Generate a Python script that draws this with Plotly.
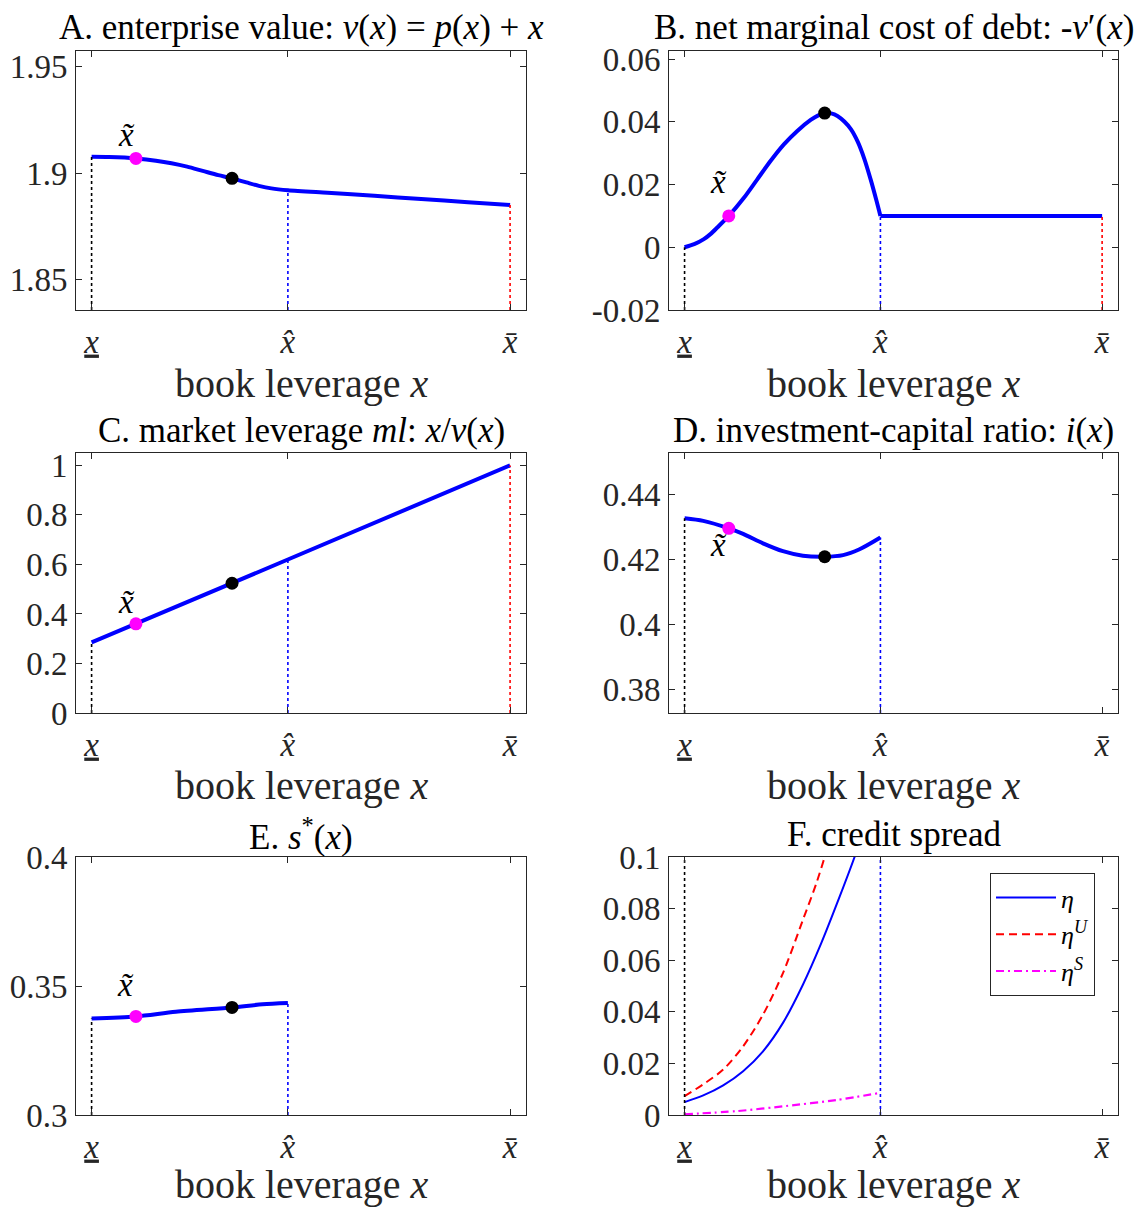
import plotly.graph_objects as go

W, H = 1143, 1209
FONT = "Liberation Serif"
INK = "#262626"
BLUE, RED, MAGENTA, BLACK = "#0000FF", "#FF0000", "#FF00FF", "#000000"

# ---- key points on the book-leverage axis ----
X_LOW, X_HAT, X_BAR = 0.544, 1.173, 1.885
X_TILDE, X_STAR = 0.686, 0.994
x_tick_vals = [X_LOW, X_HAT, X_BAR]
x_tick_text = ["<u><i>x</i></u>", "<i>x\u0302</i>", "<i>x\u0304</i>"]
x_range = [0.494, 1.936]

# ---- A. enterprise value ----
A_x = [0.544, 0.60, 0.65, 0.686, 0.75, 0.80, 0.85, 0.90, 0.95, 0.994, 1.04, 1.08, 1.12, 1.173,
       1.30, 1.45, 1.60, 1.75, 1.885]
A_v = [1.9077, 1.9076, 1.9073, 1.9069, 1.9058, 1.9046, 1.9030, 1.9010, 1.8990, 1.8975, 1.8956,
       1.8940, 1.8928, 1.8919, 1.8907, 1.8893, 1.8878, 1.8863, 1.8850]
A_dots = [1.9069, 1.8975]
A_yticks = [1.85, 1.9, 1.95]
A_ytext = ["1.85", "1.9", "1.95"]
A_yrange = [1.8356, 1.9574]

# ---- B. net marginal cost of debt ----
B_hump_x = [0.544, 0.575, 0.606, 0.627, 0.649, 0.686, 0.734, 0.777, 0.820, 0.863, 0.906, 0.949,
            0.972, 0.994, 1.015, 1.035, 1.057, 1.078, 1.100, 1.121, 1.142, 1.160, 1.173]
B_hump_y = [0.0, 0.0010, 0.0026, 0.0042, 0.0063, 0.0100, 0.0157, 0.0216, 0.0275, 0.0328, 0.0371,
            0.0406, 0.0420, 0.0428, 0.0427, 0.0419, 0.0401, 0.0377, 0.0337, 0.0283, 0.0215,
            0.0150, 0.0100]
B_flat_x = [1.173, 1.885]
B_flat_y = [0.0100, 0.0100]
B_dots = [0.0100, 0.0428]
B_yticks = [-0.02, 0, 0.02, 0.04, 0.06]
B_ytext = ["-0.02", "0", "0.02", "0.04", "0.06"]
B_yrange = [-0.02, 0.0626]

# ---- C. market leverage ----
C_x = [0.544, 0.686, 0.994, 1.173, 1.885]
C_ml = [0.285, 0.360, 0.524, 0.620, 1.000]
C_dots = [0.360, 0.524]
C_yticks = [0, 0.2, 0.4, 0.6, 0.8, 1]
C_ytext = ["0", "0.2", "0.4", "0.6", "0.8", "1"]
C_yrange = [0, 1.05]

# ---- D. investment-capital ratio ----
D_x = [0.544, 0.604, 0.686, 0.732, 0.796, 0.860, 0.924, 0.994, 1.053, 1.106, 1.173]
D_i = [0.4326, 0.4318, 0.4295, 0.4278, 0.4249, 0.4225, 0.4211, 0.4208, 0.4213, 0.4231, 0.4267]
D_dots = [0.4295, 0.4208]
D_yticks = [0.38, 0.4, 0.42, 0.44]
D_ytext = ["0.38", "0.4", "0.42", "0.44"]
D_yrange = [0.3729, 0.4526]

# ---- E. s*(x) ----
E_x = [0.544, 0.686, 0.814, 0.994, 1.092, 1.173]
E_s = [0.3374, 0.3382, 0.3400, 0.3417, 0.3429, 0.3434]
E_dots = [0.3382, 0.3417]
E_yticks = [0.3, 0.35, 0.4]
E_ytext = ["0.3", "0.35", "0.4"]
E_yrange = [0.3, 0.4]

# ---- F. credit spread ----
F_eta_x = [0.544, 0.604, 0.668, 0.732, 0.796, 0.860, 0.924, 0.983, 1.042, 1.090, 1.115]
F_eta = [0.0050, 0.0076, 0.0115, 0.0170, 0.0247, 0.0357, 0.0505, 0.0666, 0.0846, 0.1000, 0.1090]
F_etaU_x = [0.544, 0.604, 0.668, 0.732, 0.796, 0.860, 0.924, 0.967, 0.994, 1.010]
F_etaU = [0.0073, 0.0119, 0.0176, 0.0266, 0.0389, 0.0550, 0.0756, 0.0897, 0.1000, 0.1065]
F_etaS_x = [0.544, 0.711, 0.871, 1.031, 1.173]
F_etaS = [0.0003, 0.0015, 0.0035, 0.0058, 0.0086]
F_yticks = [0, 0.02, 0.04, 0.06, 0.08, 0.1]
F_ytext = ["0", "0.02", "0.04", "0.06", "0.08", "0.1"]
F_yrange = [0, 0.1]

titles = [
    "A. enterprise value: <i>v</i>(<i>x</i>) = <i>p</i>(<i>x</i>) + <i>x</i>",
    "B. net marginal cost of debt: -<i>v</i>\u2032(<i>x</i>)",
    "C. market leverage <i>ml</i>: <i>x</i>/<i>v</i>(<i>x</i>)",
    "D. investment-capital ratio: <i>i</i>(<i>x</i>)",
    "E. <i>s</i><sup>*</sup>(<i>x</i>)",
    "F. credit spread",
]
xlabel = "book leverage <i>x</i>"
tilde_label = "<i>x\u0303</i>"

# ---------------- layout geometry ----------------
col_dom = [[76 / W, 526 / W], [669 / W, 1118 / W]]
row_px = [(51, 310), (453, 713), (857, 1115)]
row_dom = [[1 - b / H, 1 - t / H] for t, b in row_px]
xlabel_px = [383, 785, 1184]

fig = go.Figure()
TICKF = 33


def ax_names(i):
    n = "" if i == 0 else str(i + 1)
    return "x" + n, "y" + n, "xaxis" + n, "yaxis" + n


def add_line(i, x, y, color=BLUE, width=4, dash="solid", shape="linear", name=None, legend=False):
    xr, yr, _, _ = ax_names(i)
    fig.add_trace(go.Scatter(x=x, y=y, mode="lines", xaxis=xr, yaxis=yr,
                             line=dict(color=color, width=width, dash=dash, shape=shape, smoothing=0.8),
                             name=name, showlegend=legend, hoverinfo="skip"))


def add_vline(i, xv, y0, y1, color):
    add_line(i, [xv, xv], [y0, y1], color=color, width=1.6, dash="dot")


def add_dots(i, yvals):
    xr, yr, _, _ = ax_names(i)
    fig.add_trace(go.Scatter(x=[X_TILDE], y=[yvals[0]], mode="markers", xaxis=xr, yaxis=yr,
                             marker=dict(color=MAGENTA, size=13), showlegend=False, hoverinfo="skip"))
    fig.add_trace(go.Scatter(x=[X_STAR], y=[yvals[1]], mode="markers", xaxis=xr, yaxis=yr,
                             marker=dict(color=BLACK, size=13), showlegend=False, hoverinfo="skip"))


# A
add_line(0, A_x, A_v, shape="spline")
add_vline(0, X_LOW, A_yrange[0], A_v[0], BLACK)
add_vline(0, X_HAT, A_yrange[0], A_v[A_x.index(X_HAT)], BLUE)
add_vline(0, X_BAR, A_yrange[0], A_v[-1], RED)
add_dots(0, A_dots)
# B
add_line(1, B_hump_x, B_hump_y, shape="spline")
add_line(1, B_flat_x, B_flat_y)
add_vline(1, X_LOW, B_yrange[0], B_hump_y[0], BLACK)
add_vline(1, X_HAT, B_yrange[0], B_flat_y[0], BLUE)
add_vline(1, X_BAR, B_yrange[0], B_flat_y[-1], RED)
add_dots(1, B_dots)
# C
add_line(2, C_x, C_ml)
add_vline(2, X_LOW, C_yrange[0], C_ml[0], BLACK)
add_vline(2, X_HAT, C_yrange[0], C_ml[C_x.index(X_HAT)], BLUE)
add_vline(2, X_BAR, C_yrange[0], C_ml[-1], RED)
add_dots(2, C_dots)
# D
add_line(3, D_x, D_i, shape="spline")
add_vline(3, X_LOW, D_yrange[0], D_i[0], BLACK)
add_vline(3, X_HAT, D_yrange[0], D_i[-1], BLUE)
add_dots(3, D_dots)
# E
add_line(4, E_x, E_s, shape="spline")
add_vline(4, X_LOW, E_yrange[0], E_s[0], BLACK)
add_vline(4, X_HAT, E_yrange[0], E_s[-1], BLUE)
add_dots(4, E_dots)
# F
add_line(5, F_eta_x, F_eta, color=BLUE, width=2, shape="spline", name="<i>\u03b7</i>", legend=True)
add_line(5, F_etaU_x, F_etaU, color=RED, width=2, dash="8px,5px", shape="spline",
         name="<i>\u03b7</i><sup><i>U</i></sup>", legend=True)
add_line(5, F_etaS_x, F_etaS, color=MAGENTA, width=2.2, dash="8px,4px,2px,4px", shape="spline",
         name="<i>\u03b7</i><sup><i>S</i></sup>", legend=True)
add_vline(5, X_LOW, F_yrange[0], F_yrange[1], BLACK)
add_vline(5, X_HAT, F_yrange[0], F_yrange[1], BLUE)

yspecs = [(A_yticks, A_ytext, A_yrange), (B_yticks, B_ytext, B_yrange), (C_yticks, C_ytext, C_yrange),
          (D_yticks, D_ytext, D_yrange), (E_yticks, E_ytext, E_yrange), (F_yticks, F_ytext, F_yrange)]

axis_common = dict(showline=True, linecolor=INK, linewidth=1, mirror="ticks", ticks="inside",
                   ticklen=6, tickcolor=INK, tickwidth=1, showgrid=False, zeroline=False,
                   automargin=False,
                   tickfont=dict(family=FONT, size=TICKF, color=INK), fixedrange=True)

annotations = []
for i in range(6):
    r, c = divmod(i, 2)
    xr, yr, xk, yk = ax_names(i)
    yt, ytx, yrg = yspecs[i]
    fig.layout[xk] = dict(domain=col_dom[c], range=x_range, anchor=yr, tickmode="array",
                          tickvals=x_tick_vals, ticktext=x_tick_text, ticklabelstandoff=2,
                          **axis_common)
    fig.layout[yk] = dict(domain=row_dom[r], range=yrg, anchor=xr, tickmode="array",
                          tickvals=yt, ticktext=ytx, ticklabelstandoff=1, **axis_common)
    cx = sum(col_dom[c]) / 2
    top, bot = row_px[r]
    annotations.append(dict(text=titles[i], x=cx, y=1 - (top - 23) / H, xref="paper", yref="paper",
                            xanchor="center", yanchor="middle", showarrow=False,
                            font=dict(family=FONT, size=35, color=BLACK)))
    annotations.append(dict(text=xlabel, x=cx, y=1 - xlabel_px[r] / H, xref="paper", yref="paper",
                            xanchor="center", yanchor="middle", showarrow=False,
                            font=dict(family=FONT, size=40, color=INK)))

# x-tilde labels next to the magenta points
tilde_pos = [(0, A_dots[0], -9, 23), (1, B_dots[0], -10, 34), (2, C_dots[0], -9, 22),
             (3, D_dots[0], -10, -17), (4, E_dots[0], -10, 31)]
for i, yv, dx, dy in tilde_pos:
    xr, yr, _, _ = ax_names(i)
    annotations.append(dict(text=tilde_label, x=X_TILDE, y=yv, xref=xr, yref=yr, xshift=dx, yshift=dy,
                            showarrow=False, xanchor="center", yanchor="middle",
                            font=dict(family=FONT, size=33, color=BLACK)))

fig.update_layout(
    width=W, height=H, autosize=False, margin=dict(l=0, r=0, t=0, b=0, pad=0, autoexpand=False),
    paper_bgcolor="white", plot_bgcolor="white",
    font=dict(family=FONT, color=INK),
    annotations=annotations,
    legend=dict(x=990 / W, y=1 - 873 / H, xanchor="left", yanchor="top", xref="paper", yref="paper",
                bgcolor="white", bordercolor=INK, borderwidth=1,
                font=dict(family=FONT, size=26, color=BLACK), itemwidth=60, tracegroupgap=0),
)

fig.write_html(
    "out.html",
    config={"displayModeBar": False, "staticPlot": True},
    post_script="document.body.style.margin='0';document.body.style.overflow='hidden';"
                "document.documentElement.style.overflow='hidden';",
)
